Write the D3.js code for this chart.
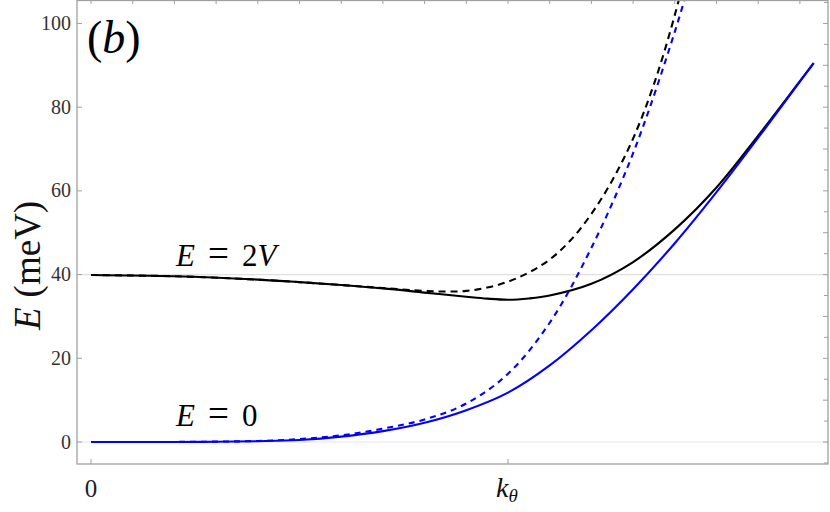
<!DOCTYPE html>
<html>
<head>
<meta charset="utf-8">
<script src="https://cdn.jsdelivr.net/npm/d3@7"></script>
<style>
  html, body { margin: 0; padding: 0; background: #fff; }
  svg { display: block; }
  text { font-family: "Liberation Serif", "DejaVu Serif", serif; }
</style>
</head>
<body>
<svg id="chart" width="830" height="512"></svg>
<script>
// ---- data (k in units of k_theta, E in meV) ----
const blackSolidK = [0, 0.2, 0.4, 0.5, 0.6, 0.7, 0.8, 0.9, 0.95, 1.0, 1.05, 1.1, 1.2, 1.3, 1.4, 1.5, 1.6, 1.7, 1.733];
const blackSolidE = [39.9, 39.6, 38.8, 38.2, 37.5, 36.7, 35.7, 34.7, 34.25, 34.0, 34.3, 35.0, 37.8, 43.0, 50.8, 60.8, 73.2, 86.2, 90.5];

const blueSolidK = [0, 0.2, 0.3, 0.4, 0.5, 0.6, 0.7, 0.8, 0.9, 1.0, 1.1, 1.2, 1.3, 1.4, 1.5, 1.6, 1.7, 1.733];
const blueSolidE = [0, 0.02, 0.06, 0.2, 0.5, 1.3, 2.6, 4.6, 7.6, 11.8, 18.3, 26.7, 36.5, 47.5, 59.7, 72.7, 86.1, 90.5];

const blackDashK = [0, 0.2, 0.4, 0.5, 0.6, 0.7, 0.8, 0.85, 0.9, 0.95, 1.0, 1.05, 1.1, 1.15, 1.2, 1.25, 1.3, 1.35, 1.4, 1.45];
const blackDashE = [39.9, 39.6, 38.8, 38.2, 37.5, 36.8, 36.1, 35.95, 36.1, 36.9, 38.3, 40.5, 43.6, 48.2, 54.5, 62.5, 72.5, 85.5, 102, 122];

const blueDashK = [0, 0.2, 0.3, 0.4, 0.5, 0.6, 0.7, 0.8, 0.9, 1.0, 1.1, 1.2, 1.3, 1.4, 1.45];
const blueDashE = [0, 0.02, 0.1, 0.25, 0.7, 1.6, 3.2, 5.4, 9.2, 16.3, 28.5, 46.4, 69.0, 98.0, 115];

const yTicks = [0, 20, 40, 60, 80, 100];
const yMinorTicks = d3.range(-5, 106, 5);
const xTopTicks = d3.range(0, 1.71, 0.1);
const xTickValues = [0, 1];
const gridValues = [0, 40];
const gridColors = ["#e4e4f7", "#e0e0e0"];

// ---- layout ----
const svg = d3.select("#chart");
const L = 77, R = 828, T = 0, B = 464;
const x = d3.scaleLinear().domain([-0.0336, 1.7674]).range([L, R]);
const y = d3.scaleLinear().domain([-5.25, 105.6]).range([B, T]);

svg.append("defs").append("clipPath").attr("id", "clip")
  .append("rect").attr("x", L).attr("y", T).attr("width", R - L).attr("height", B - T);

// grid lines
svg.append("g").selectAll("line").data(gridValues).join("line")
  .attr("x1", L).attr("x2", R)
  .attr("y1", d => y(d)).attr("y2", d => y(d))
  .attr("stroke", (d, i) => gridColors[i]).attr("stroke-width", 1.2);

// curves
const line = d3.line().x(d => x(d[0])).y(d => y(d[1])).curve(d3.curveCatmullRom.alpha(0.5));
const zip = (a, b) => a.map((v, i) => [v, b[i]]);
const g = svg.append("g").attr("clip-path", "url(#clip)");
const series = [
  { k: blackDashK, e: blackDashE, color: "#000", dash: "7,5" },
  { k: blackSolidK, e: blackSolidE, color: "#000", dash: null },
  { k: blueDashK, e: blueDashE, color: "#0000ff", dash: "6,5" },
  { k: blueSolidK, e: blueSolidE, color: "#0000ff", dash: null }
];
series.forEach(s => {
  g.append("path").datum(zip(s.k, s.e))
    .attr("d", line).attr("fill", "none")
    .attr("stroke", s.color).attr("stroke-width", 2.1)
    .attr("stroke-dasharray", s.dash);
});

// frame
const frameColor = "#a0a0a0";
svg.append("rect").attr("x", L).attr("y", T + 0.5).attr("width", R - L).attr("height", B - T - 0.5)
  .attr("fill", "none").attr("stroke", frameColor).attr("stroke-width", 1.3);

// ticks
const axes = svg.append("g").attr("stroke", frameColor).attr("stroke-width", 1);
axes.selectAll(".lt").data(yTicks).join("line")
  .attr("x1", L).attr("x2", L + 5).attr("y1", d => y(d)).attr("y2", d => y(d));
axes.selectAll(".rt").data(yMinorTicks).join("line")
  .attr("x1", R).attr("x2", d => R - (d % 10 === 0 ? 5 : 4)).attr("y1", d => y(d)).attr("y2", d => y(d));
axes.selectAll(".tt").data(xTopTicks).join("line")
  .attr("x1", d => x(d)).attr("x2", d => x(d)).attr("y1", T).attr("y2", T + 4);
axes.selectAll(".bt").data(xTickValues).join("line")
  .attr("x1", d => x(d)).attr("x2", d => x(d)).attr("y1", B).attr("y2", B - 5);

// y tick labels
svg.append("g").selectAll("text").data(yTicks).join("text")
  .attr("x", L - 6).attr("y", d => y(d)).attr("dy", "0.33em")
  .attr("text-anchor", "end").attr("font-size", 20).attr("fill", "#333")
  .text(d => d);

// x tick labels
const xl = svg.append("g");
xl.append("text").attr("x", x(xTickValues[0])).attr("y", 497)
  .attr("text-anchor", "middle").attr("font-size", 25).attr("fill", "#222").text("0");
const kt = xl.append("text").attr("x", x(xTickValues[1]) - 12).attr("y", 497)
  .attr("font-size", 28).attr("fill", "#111");
kt.append("tspan").attr("font-style", "italic").text("k");
kt.append("tspan").attr("font-style", "italic").attr("font-size", 19).attr("dy", 5).text("θ");

// y axis title
const yt = svg.append("text").attr("transform", "translate(40,330) rotate(-90)")
  .attr("font-size", 37).attr("fill", "#111");
yt.append("tspan").attr("font-style", "italic").text("E");
yt.append("tspan").attr("dx", 10).text("(meV)");

// panel label
const pl = svg.append("text").attr("x", 87).attr("y", 53).attr("font-size", 46).attr("fill", "#000");
pl.append("tspan").text("(");
pl.append("tspan").attr("font-style", "italic").text("b");
pl.append("tspan").text(")");

// curve labels
function eqLabel(baseY, rhs) {
  const t = svg.append("text").attr("y", baseY).attr("font-size", 31).attr("fill", "#000");
  t.append("tspan").attr("x", 176).attr("font-style", "italic").text("E");
  t.append("tspan").attr("x", 208).attr("font-size", 37).text("=");
  rhs.forEach((p, i) => {
    const s = t.append("tspan").text(p.t);
    if (i === 0) s.attr("x", 242);
    if (p.it) s.attr("font-style", "italic");
  });
}
eqLabel(266, [{ t: "2", it: false }, { t: "V", it: true }]);
eqLabel(426, [{ t: "0", it: false }]);
</script>
</body>
</html>
